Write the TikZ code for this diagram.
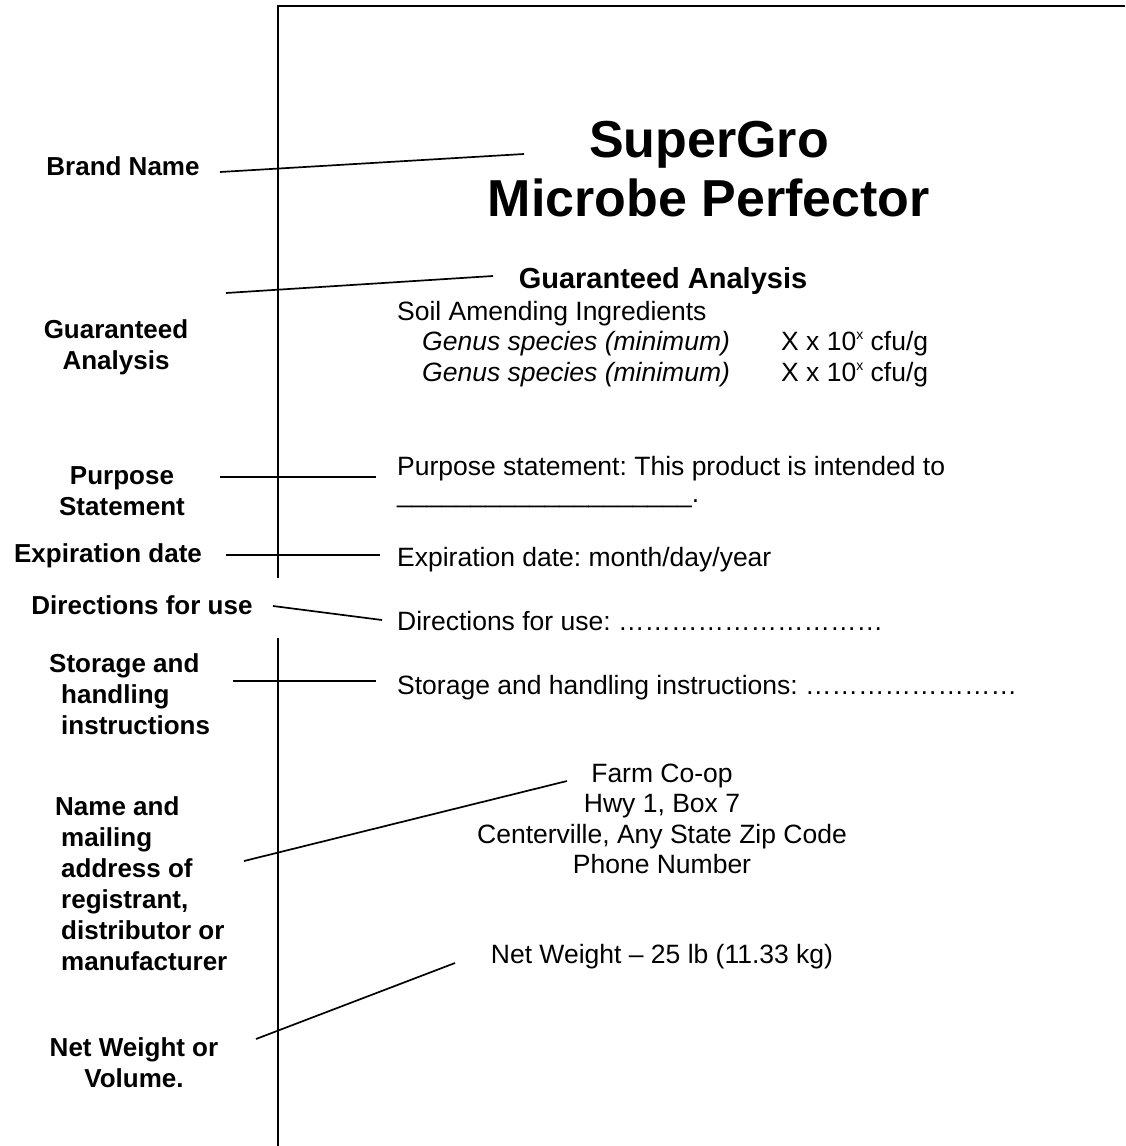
\documentclass[tikz,border=0pt]{standalone}
\usepackage{fontspec}
\setmainfont{Liberation Sans}
\frenchspacing
\begin{document}
\begin{tikzpicture}[x=1pt,y=-1pt,
  lbl/.style={font=\bfseries\fontsize{26}{31}\selectfont, align=center, inner sep=0pt},
  lbll/.style={font=\bfseries\fontsize{26}{31}\selectfont, align=left, inner sep=0pt, anchor=west},
  body/.style={font=\fontsize{26.5}{30.5}\selectfont, inner sep=0pt, anchor=mid west, yshift=-6pt},
  bodyc/.style={font=\fontsize{26.5}{30.5}\selectfont, inner sep=0pt, align=center},
  conn/.style={line width=1.7pt},
  frame/.style={line width=2pt}]
\useasboundingbox (0,0) rectangle (1125,1146);

% frame
\coordinate (ftop) at (1125,6);
\coordinate (fcorner) at (278,6);
\coordinate (fgap1) at (278,578);
\coordinate (fgap2) at (278,638);
\coordinate (fbot) at (278,1146);
\draw[frame] (ftop) -- (fcorner) -- (fgap1);
\draw[frame] (fgap2) -- (fbot);

% label texts (left)
\node[lbl] (lbrand) at (123,166) {Brand Name};
\node[lbl] (lga) at (116,347) {Guaranteed\\Analysis};
\node[lbl] (lpurp) at (122,491) {Purpose\\Statement};
\node[lbl] (lexp) at (108,556) {Expiration date};
\node[lbl] (ldir) at (142,605) {Directions for use};
\node[lbll] (lstor) at (49,694) {Storage and\\\hspace*{12pt}handling\\\hspace*{12pt}instructions};
\node[lbll] (lname) at (55,884) {Name and\\\hspace*{6pt}mailing\\\hspace*{6pt}address of\\\hspace*{6pt}registrant,\\\hspace*{6pt}distributor or\\\hspace*{6pt}manufacturer};
\node[lbl] (lnet) at (134,1063) {Net Weight or\\Volume.};

% label contents (right)
\node[font=\bfseries\fontsize{52}{59}\selectfont, align=center, inner sep=0pt] (title) at (709,169) {SuperGro\\Microbe Perfector};
\node[font=\bfseries\fontsize{29}{34}\selectfont, inner sep=0pt] (gahead) at (663,281) {Guaranteed Analysis};
\node[body] (soil) at (397,312) {Soil Amending Ingredients};
\node[body] (gen1) at (422,342) {\itshape Genus species (minimum)};
\node[body] (gen2) at (422,373) {\itshape Genus species (minimum)};
\node[body] (cfu1) at (781,342) {X x 10\raisebox{0.42em}{\fontsize{14}{14}\selectfont x} cfu/g};
\node[body] (cfu2) at (781,373) {X x 10\raisebox{0.42em}{\fontsize{14}{14}\selectfont x} cfu/g};
\node[body] (purp) at (397,467) {Purpose statement: This product is intended to};
\node[body] (purp2) at (397,494) {\_\_\_\_\_\_\_\_\_\_\_\_\_\_\_\_\_\_\_\_.};
\node[body] (exp) at (397,558) {Expiration date: month/day/year};
\node[body] (dir) at (397,622) {Directions for use: …………………………};
\node[body] (stor) at (397,686) {Storage and handling instructions: ……………………};
\node[bodyc] (addr) at (662,819) {Farm Co-op\\Hwy 1, Box 7\\Centerville, Any State Zip Code\\Phone Number};
\node[bodyc] (net) at (662,957) {Net Weight – 25 lb (11.33 kg)};

% connector ends
\coordinate (cbrandA) at (220,172);
\coordinate (cbrandB) at (524,154);
\coordinate (cgaA) at (226,293);
\coordinate (cgaB) at (493,276);
\coordinate (cpurpA) at (220,477);
\coordinate (cpurpB) at (376,477);
\coordinate (cexpA) at (226,555);
\coordinate (cexpB) at (380,555);
\coordinate (cdirA) at (273,606);
\coordinate (cdirB) at (382,620);
\coordinate (cstorA) at (233,681);
\coordinate (cstorB) at (376,681);
\coordinate (cnameA) at (244,861);
\coordinate (cnameB) at (567,781);
\coordinate (cnetA) at (256,1039);
\coordinate (cnetB) at (455,963);

\draw[conn] (cbrandA) -- (cbrandB);
\draw[conn] (cgaA) -- (cgaB);
\draw[conn] (cpurpA) -- (cpurpB);
\draw[conn] (cexpA) -- (cexpB);
\draw[conn] (cdirA) -- (cdirB);
\draw[conn] (cstorA) -- (cstorB);
\draw[conn] (cnameA) -- (cnameB);
\draw[conn] (cnetA) -- (cnetB);
\end{tikzpicture}
\end{document}
